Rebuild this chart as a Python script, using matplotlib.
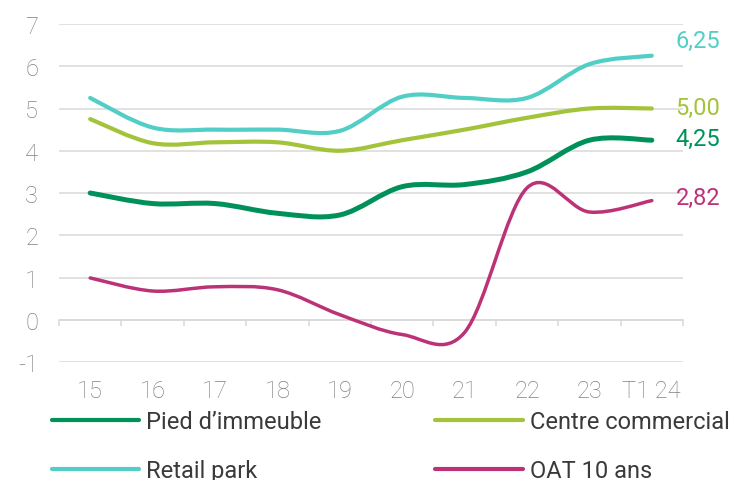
import numpy as np
import matplotlib
matplotlib.use("Agg")
import matplotlib.pyplot as plt
from matplotlib.path import Path
from matplotlib.patches import PathPatch
from matplotlib.lines import Line2D

plt.rcParams['font.family'] = ['Roboto', 'DejaVu Sans']
plt.rcParams['axes.unicode_minus'] = False

# data (taux, %)
categories = ["15", "16", "17", "18", "19", "20", "21", "22", "23", "T1 24"]
pied_immeuble = [3.00, 2.75, 2.75, 2.52, 2.48, 3.15, 3.20, 3.50, 4.25, 4.25]
centre_commercial = [4.75, 4.18, 4.20, 4.20, 4.00, 4.25, 4.50, 4.78, 5.00, 5.00]
retail_park = [5.25, 4.55, 4.50, 4.50, 4.47, 5.28, 5.25, 5.25, 6.05, 6.25]
oat_10_ans = [0.99, 0.68, 0.78, 0.71, 0.12, -0.35, -0.30, 3.12, 2.55, 2.82]

series = [
    ("Pied d\u2019immeuble", pied_immeuble, "#00915A", 3.6),
    ("Retail park", retail_park, "#52CEC6", 3.0),
    ("Centre commercial", centre_commercial, "#A3C43A", 3.0),
    ("OAT 10 ans", oat_10_ans, "#BC3276", 2.5),
]
# vertical nudge of the end labels (points)
label_dy = {"Retail park": 11, "Centre commercial": 1, "Pied d\u2019immeuble": 1, "OAT 10 ans": 2}

GRID = "#D9D9D9"
TICK = "#808080"


def smooth_path(xs, ys):
    # excel-like smoothed line: cubic bezier through the points
    pts = np.column_stack([xs, ys]).astype(float)
    n = len(pts)
    verts = [pts[0]]
    codes = [Path.MOVETO]
    for i in range(n - 1):
        p0 = pts[max(i - 1, 0)]
        p1 = pts[i]
        p2 = pts[i + 1]
        p3 = pts[min(i + 2, n - 1)]
        c1 = p1 + (p2 - p0) / 6.0
        c2 = p2 - (p3 - p1) / 6.0
        verts += [c1, c2, p2]
        codes += [Path.CURVE4] * 3
    return Path(verts, codes)


fig = plt.figure(figsize=(7.42, 4.81), dpi=100)
ax = fig.add_axes([59 / 742, 1 - 363 / 481, 624 / 742, 338 / 481])

x = np.arange(len(categories))

handles = []
for name, vals, color, lw in series:
    patch = PathPatch(smooth_path(x, vals), fill=False, edgecolor=color, lw=lw,
                      capstyle='round', joinstyle='round', zorder=3)
    ax.add_patch(patch)
    handles.append(Line2D([], [], color=color, lw=3.0, solid_capstyle='round'))
    last = vals[-1]
    ax.annotate(f"{last:.2f}".replace(".", ","), xy=(x[-1], last),
                xytext=(17, label_dy[name]), textcoords='offset points',
                ha='left', va='center', fontsize=17, color=color)

ax.set_xlim(-0.5, len(categories) - 0.5)
ax.set_ylim(-1, 7)
ax.set_yticks(range(-1, 8))
ax.yaxis.grid(True, color=GRID, lw=1.1)
ax.set_axisbelow(True)
ax.tick_params(axis='y', length=0, pad=15, labelsize=17, labelcolor=TICK)
for lab in ax.get_yticklabels():
    lab.set_fontweight('light')

for s in ['top', 'right', 'left']:
    ax.spines[s].set_visible(False)
ax.spines['bottom'].set_position(('data', 0))
ax.spines['bottom'].set_color(GRID)
ax.spines['bottom'].set_linewidth(1.1)
ax.set_xticks(np.arange(-0.5, len(categories), 1))
ax.tick_params(axis='x', direction='out', length=4.5, width=1.1, color=GRID, labelbottom=False)

sec = ax.secondary_xaxis('bottom')
sec.set_xticks(x, categories)
sec.tick_params(length=0, pad=12, labelsize=17, labelcolor=TICK)
sec.spines['bottom'].set_visible(False)
for lab in sec.get_xticklabels():
    lab.set_fontweight('light')

labels = [s[0] for s in series]
fig.legend(handles, labels, ncol=2, loc='upper left', bbox_to_anchor=(52 / 742, 1 - 411 / 481),
           frameon=False, fontsize=17, labelcolor="#3A3A3A", handlelength=3.7,
           handletextpad=0.3, columnspacing=4.8, labelspacing=1.12, borderpad=0,
           borderaxespad=0)

fig.savefig("out.png", dpi=100)
